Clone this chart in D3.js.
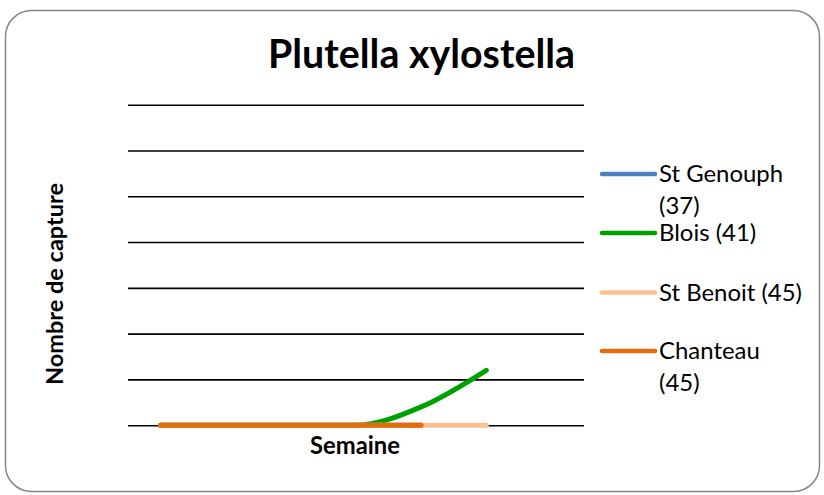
<!DOCTYPE html>
<html>
<head>
<meta charset="utf-8">
<script src="https://cdn.jsdelivr.net/npm/d3@7"></script>
<style>
  body { margin: 0; background: #fff; }
  text { font-family: Lato, "Open Sans", sans-serif; fill: #000; }
</style>
</head>
<body>
<svg id="chart" width="824" height="495"></svg>
<script>
// weeks (no labels shown on the axis)
var weeks = ['S1', 'S2', 'S3', 'S4', 'S5', 'S6', 'S7'];
var seriesNames = ['St Genouph (37)', 'Blois (41)', 'St Benoit (45)', 'Chanteau (45)'];
var seriesColors = ['#4f81bd', '#00a000', '#fac090', '#e46c0a'];
// mean captures per week
var stGenouph = [0, 0, 0, 0, 0];
var blois = [0, 0, 0, 0, 0.4, 1.2];
var stBenoit = [0, 0, 0, 0, 0, 0];
var chanteau = [0, 0, 0, 0, 0];
var yTicks = [0, 1, 2, 3, 4, 5, 6, 7];

var svg = d3.select('#chart');
var W = 824, H = 495;
var margin = { left: 128, right: 240, top: 104.7, bottom: 69.8 };

// outer frame
svg.append('rect')
	.attr('x', 5.5).attr('y', 10.5)
	.attr('width', 814).attr('height', 481)
	.attr('rx', 26).attr('ry', 26)
	.attr('fill', '#fff')
	.attr('stroke', '#868686')
	.attr('stroke-width', 1.5);

var x = d3.scaleBand()
	.domain(weeks)
	.range([margin.left, W - margin.right]);
var y = d3.scaleLinear()
	.domain([0, 7])
	.range([H - margin.bottom, margin.top]);

// gridlines
svg.append('g')
	.attr('transform', 'translate(' + margin.left + ',0)')
	.call(d3.axisLeft(y).tickValues(yTicks).tickSize(-(W - margin.right - margin.left)).tickFormat(''))
	.call(function (g) {
		g.select('.domain').remove();
		g.selectAll('.tick line').attr('stroke', '#000').attr('stroke-width', 1.6);
	});

var line = d3.line()
	.x(function (d, i) { return x(weeks[i]) + x.bandwidth() / 2; })
	.y(function (d) { return y(d); })
	.curve(d3.curveMonotoneX);

var allSeries = [stGenouph, blois, stBenoit, chanteau];
allSeries.forEach(function (s, k) {
	svg.append('path')
		.attr('d', line(s))
		.attr('fill', 'none')
		.attr('stroke', seriesColors[k])
		.attr('stroke-width', 5)
		.attr('stroke-linecap', 'round')
		.attr('stroke-linejoin', 'round');
});

function fit(sel, w) {
	var len = sel.node().getComputedTextLength();
	var fs = parseFloat(sel.attr('font-size'));
	sel.attr('font-size', fs * w / len);
	return fs * w / len;
}

// title
var title = svg.append('text')
	.attr('x', 421.5).attr('y', 68)
	.attr('text-anchor', 'middle')
	.attr('font-weight', 'bold')
	.attr('font-size', 40)
	.text('Plutella xylostella');
fit(title, 307);

// axis titles
var xt = svg.append('text')
	.attr('x', 355).attr('y', 454)
	.attr('text-anchor', 'middle')
	.attr('font-weight', 'bold')
	.attr('font-size', 25)
	.text('Semaine');
fit(xt, 90);

var yt = svg.append('text')
	.attr('transform', 'translate(63,284) rotate(-90)')
	.attr('text-anchor', 'middle')
	.attr('font-weight', 'bold')
	.attr('font-size', 25)
	.text('Nombre de capture');
fit(yt, 202);

// legend
var probe = svg.append('text').attr('font-size', 26).text('St Benoit (45)');
var legendSize = fit(probe, 143);
var maxW = probe.node().getComputedTextLength() + 2;
probe.remove();

var legendY = [174, 233, 292.5, 351];
seriesNames.forEach(function (name, k) {
	var g = svg.append('g').attr('transform', 'translate(0,' + legendY[k] + ')');
	g.append('line')
		.attr('x1', 602).attr('x2', 655)
		.attr('stroke', seriesColors[k])
		.attr('stroke-width', 4.5)
		.attr('stroke-linecap', 'round');
	var t = g.append('text')
		.attr('x', 659).attr('y', 8)
		.attr('font-size', legendSize)
		.text(name);
	if (t.node().getComputedTextLength() > maxW) {
		var cut = name.lastIndexOf(' ');
		t.text(null);
		t.append('tspan').attr('x', 659).attr('dy', 0).text(name.slice(0, cut));
		t.append('tspan').attr('x', 659).attr('dy', 32).text(name.slice(cut + 1));
	}
});
</script>
</body>
</html>
